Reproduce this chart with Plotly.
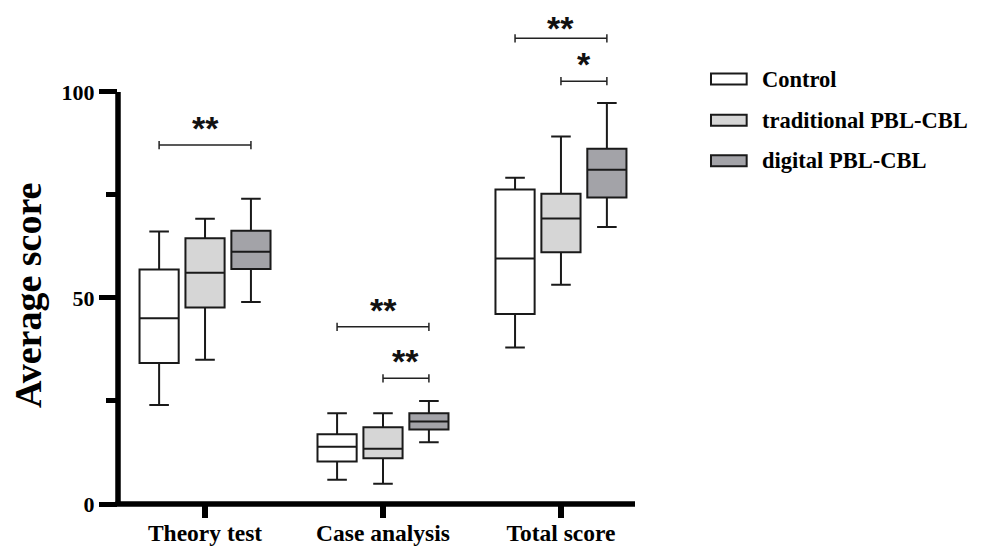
import plotly.graph_objects as go

# ---------------- data ----------------
categories = ["Theory test", "Case analysis", "Total score"]
groups = ["Control", "traditional PBL-CBL", "digital PBL-CBL"]

control_min = [24.0, 5.9, 38.0]
control_q1 = [34.2, 10.3, 46.1]
control_med = [45.1, 13.9, 59.6]
control_q3 = [56.9, 16.9, 76.3]
control_max = [66.1, 22.0, 79.2]

trad_min = [35.0, 4.9, 53.2]
trad_q1 = [47.7, 11.1, 61.1]
trad_med = [56.1, 13.4, 69.3]
trad_q3 = [64.5, 18.6, 75.3]
trad_max = [69.2, 22.0, 89.2]

dig_min = [49.0, 15.0, 67.2]
dig_q1 = [57.0, 18.1, 74.4]
dig_med = [61.2, 20.0, 81.1]
dig_q3 = [66.3, 22.0, 86.2]
dig_max = [74.1, 25.0, 97.3]

y_tickvals = [0, 50, 100]
y_minor_tickvals = [25, 75]

# significance brackets
sig_category = [0, 1, 1, 2, 2]
sig_from = [0, 0, 1, 0, 1]
sig_to = [2, 2, 2, 2, 2]
sig_y = [87.1, 43.0, 30.5, 113.0, 102.6]
sig_label = ["**", "**", "**", "**", "*"]

# ---------------- styles ----------------
fills = ["#ffffff", "#d6d6d6", "#a3a3a8"]
edge = "#1a1a1a"
offsets = [-0.258, 0.0, 0.258]
box_w = 0.22
serif = "Liberation Serif"

stats = [
    (control_min, control_q1, control_med, control_q3, control_max),
    (trad_min, trad_q1, trad_med, trad_q3, trad_max),
    (dig_min, dig_q1, dig_med, dig_q3, dig_max),
]

fig = go.Figure()
for g, (mn, q1, md, q3, mx) in enumerate(stats):
    fig.add_trace(go.Box(
        name=groups[g],
        x=[i + offsets[g] for i in range(len(categories))],
        lowerfence=mn, q1=q1, median=md, q3=q3, upperfence=mx,
        width=box_w, whiskerwidth=0.5,
        fillcolor=fills[g], line=dict(color=edge, width=2),
        boxpoints=False, showlegend=False, hoverinfo="skip",
    ))

# brackets
bx, by = [], []
tick_h = 1.0
for c, f, t, y in zip(sig_category, sig_from, sig_to, sig_y):
    x0 = c + offsets[f]
    x1 = c + offsets[t]
    bx += [x0, x0, None, x0, x1, None, x1, x1, None]
    by += [y - tick_h, y + tick_h, None, y, y, None, y - tick_h, y + tick_h, None]
fig.add_trace(go.Scatter(x=bx, y=by, mode="lines",
                         line=dict(color="#222222", width=1.5),
                         showlegend=False, hoverinfo="skip"))

annotations = []
for c, f, t, y, lab in zip(sig_category, sig_from, sig_to, sig_y, sig_label):
    xm = c + (offsets[f] + offsets[t]) / 2
    annotations.append(dict(
        x=xm, y=y, xref="x", yref="y", text=lab, showarrow=False,
        xanchor="center", yanchor="bottom", yshift=-4 if y < 110 else -11,
        font=dict(family="Liberation Sans", size=34, color="#111111", weight="bold"),
    ))

# y title
annotations.append(dict(
    x=-0.174, y=50.5, xref="paper", yref="y", text="Average score",
    textangle=-90, showarrow=False, xanchor="center", yanchor="middle",
    font=dict(family=serif, size=38, color="#000000", weight="bold"),
))

# manual legend
shapes = []
leg_y = [0.889, 0.803, 0.718]
for g in range(3):
    shapes.append(dict(type="rect", xref="paper", yref="paper",
                       x0=1.147, x1=1.216, y0=leg_y[g] - 0.0115, y1=leg_y[g] + 0.0115,
                       fillcolor=fills[g], line=dict(color=edge, width=2)))
    annotations.append(dict(x=1.2418, y=leg_y[g], xref="paper", yref="paper",
                            text=groups[g], showarrow=False,
                            xanchor="left", yanchor="middle",
                            font=dict(family=serif, size=22.5, color="#000000", weight="bold")))

# axis lines
shapes.append(dict(type="line", xref="paper", yref="paper", x0=0, x1=0,
                   y0=0, y1=100 / 116, line=dict(color="#000000", width=5.5)))
shapes.append(dict(type="line", xref="paper", yref="paper", x0=-0.005, x1=1,
                   y0=0, y1=0, line=dict(color="#000000", width=5.5)))

fig.update_layout(
    width=978, height=542,
    margin=dict(l=110, r=351, t=18, b=46),
    paper_bgcolor="#ffffff", plot_bgcolor="#ffffff",
    boxmode="overlay",
    showlegend=False,
    shapes=shapes,
    annotations=annotations,
    xaxis=dict(range=[-0.489, 2.416], tickmode="array", tickvals=list(range(len(categories))),
               ticktext=categories, ticks="outside", ticklen=13, tickwidth=6,
               tickcolor="#000000", showgrid=False, zeroline=False, showline=False,
               automargin=False, ticklabelstandoff=-5,
               tickfont=dict(family=serif, size=23.5, color="#000000", weight="bold")),
    yaxis=dict(range=[0, 116], tickmode="array", tickvals=y_tickvals,
               ticktext=[str(v) for v in y_tickvals],
               ticks="outside", ticklen=18, tickwidth=5, tickcolor="#000000",
               minor=dict(tickmode="array", tickvals=y_minor_tickvals, ticks="outside",
                          ticklen=11, tickwidth=5, tickcolor="#000000"),
               showgrid=False, zeroline=False, showline=False, automargin=False,
               tickfont=dict(family=serif, size=22, color="#000000", weight="bold")),
)

fig.write_html("out.html")
